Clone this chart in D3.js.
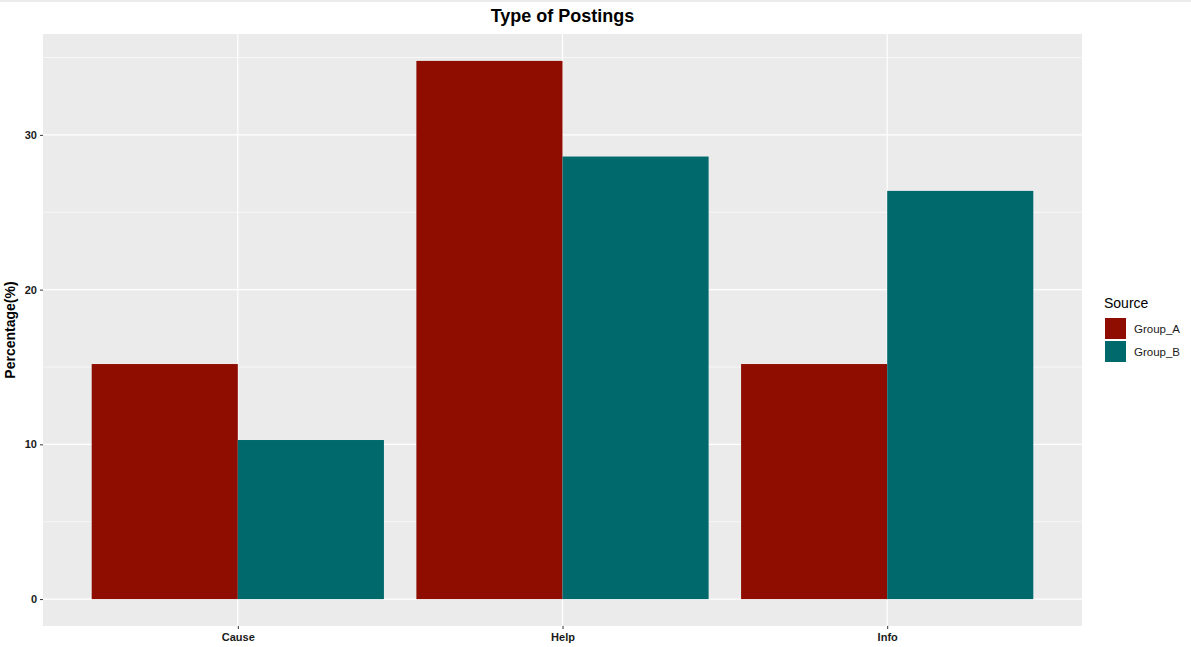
<!DOCTYPE html>
<html>
<head>
<meta charset="utf-8">
<script src="https://cdn.jsdelivr.net/npm/d3@7"></script>
<style>
  body { margin: 0; background: #fff; }
  text { font-family: "Liberation Sans", Arial, sans-serif; }
</style>
</head>
<body>
<script>

var categories = ["Cause", "Help", "Info"];
var groups = ["Group_A", "Group_B"];
var groupA = [15.19, 34.78, 15.19];
var groupB = [10.28, 28.6, 26.38];
var yTicks = [0, 10, 20, 30];
var colors = ["#8e0c00", "#00696b"];

var data = [];
categories.forEach(function(c, i){
    data.push({cat: c, group: groups[0], value: groupA[i]});
    data.push({cat: c, group: groups[1], value: groupB[i]});
});

var width = 1191, height = 647;
var panel = {left: 43, right: 1082, top: 34, bottom: 626};

var svg = d3.select("body").append("svg").attr("width", width).attr("height", height);

// thin grey strip at the very top
svg.append("rect").attr("x", 0).attr("y", 0).attr("width", width).attr("height", 2).attr("fill", "#ebebeb");

//SCALES
var maxVal = d3.max(data, function(d){return d.value;});
var pad = maxVal * 0.05;

var yScale = d3.scaleLinear()
    .domain([-pad, maxVal + pad])
    .range([panel.bottom, panel.top]);

// discrete axis: categories at 1..n, expanded by 0.6 each side
var xPos = d3.scaleLinear()
    .domain([0.4, categories.length + 0.6])
    .range([panel.left, panel.right]);

var xBand = function(c){ return xPos(categories.indexOf(c) + 1); };
var unit = xPos(2) - xPos(1);
var barW = unit * 0.9 / 2;

//PANEL
svg.append("rect")
    .attr("x", panel.left).attr("y", panel.top)
    .attr("width", panel.right - panel.left).attr("height", panel.bottom - panel.top)
    .attr("fill", "#ebebeb");

var grid = svg.append("g");
var minor = [5, 15, 25, 35];
grid.selectAll(".minor").data(minor).enter().append("line")
    .attr("x1", panel.left).attr("x2", panel.right)
    .attr("y1", function(d){return yScale(d);}).attr("y2", function(d){return yScale(d);})
    .attr("stroke", "#fff").attr("stroke-width", 0.6);
grid.selectAll(".major").data(yTicks).enter().append("line")
    .attr("x1", panel.left).attr("x2", panel.right)
    .attr("y1", function(d){return yScale(d);}).attr("y2", function(d){return yScale(d);})
    .attr("stroke", "#fff").attr("stroke-width", 1.2);
grid.selectAll(".vmajor").data(categories).enter().append("line")
    .attr("x1", xBand).attr("x2", xBand)
    .attr("y1", panel.top).attr("y2", panel.bottom)
    .attr("stroke", "#fff").attr("stroke-width", 1.2);

//BARS
svg.append("g").selectAll("rect").data(data).enter().append("rect")
    .attr("x", function(d){ return xBand(d.cat) + (d.group === groups[0] ? -barW : 0); })
    .attr("width", barW)
    .attr("y", function(d){ return yScale(d.value); })
    .attr("height", function(d){ return yScale(0) - yScale(d.value); })
    .attr("fill", function(d){ return colors[groups.indexOf(d.group)]; });

//AXES
var yAxis = d3.axisLeft(yScale).tickValues(yTicks).tickSize(3).tickPadding(3);
var yG = svg.append("g").attr("transform", "translate(" + panel.left + ",0)").call(yAxis);
yG.select(".domain").remove();
yG.selectAll("line").attr("stroke", "#333");
yG.selectAll("text").attr("font-size", 11).attr("font-weight", "bold").attr("fill", "#1a1a1a");

var xAxis = d3.axisBottom(d3.scalePoint().domain(categories).range([xBand(categories[0]), xBand(categories[categories.length-1])]))
    .tickSize(3).tickPadding(4);
var xG = svg.append("g").attr("transform", "translate(0," + panel.bottom + ")").call(xAxis);
xG.select(".domain").remove();
xG.selectAll("line").attr("stroke", "#333");
xG.selectAll("text").attr("font-size", 11).attr("font-weight", "bold").attr("fill", "#1a1a1a");

//TITLES
svg.append("text")
    .attr("x", (panel.left + panel.right) / 2).attr("y", 22)
    .attr("text-anchor", "middle").attr("font-size", 18).attr("font-weight", "bold")
    .text("Type of Postings");

svg.append("text")
    .attr("transform", "translate(15," + ((panel.top + panel.bottom) / 2) + ") rotate(-90)")
    .attr("text-anchor", "middle").attr("font-size", 14).attr("font-weight", "bold")
    .text("Percentage(%)");

//LEGEND
var legend = svg.append("g").attr("transform", "translate(1104,0)");
legend.append("text").attr("x", 0).attr("y", 308).attr("font-size", 14).text("Source");
var items = legend.selectAll(".item").data(groups).enter().append("g")
    .attr("transform", function(d, i){ return "translate(0," + (317 + i * 23) + ")"; });
items.append("rect").attr("x", 1).attr("y", 1).attr("width", 21).attr("height", 21)
    .attr("fill", function(d, i){ return colors[i]; });
items.append("text").attr("x", 30).attr("y", 15.5).attr("font-size", 11.5).attr("fill", "#1a1a1a")
    .text(function(d){ return d; });

</script>
</body>
</html>
